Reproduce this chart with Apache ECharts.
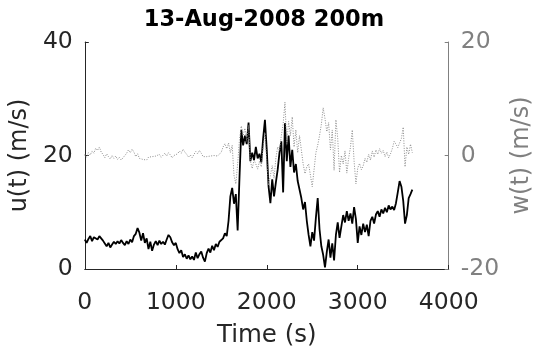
<!DOCTYPE html>
<html>
<head>
<meta charset="utf-8">
<script src="https://cdn.jsdelivr.net/npm/echarts@6/dist/echarts.min.js"></script>
<style>
  html, body { margin: 0; padding: 0; background: #ffffff; }
  #chart { width: 542px; height: 353px; }
</style>
</head>
<body>
<div id="chart"></div>
<script>
// Sampling interval of both records (seconds)
const sampleStep = 20;

// Horizontal wind speed u(t) in m/s, one value per sample from t = 0 s
const uValues = [
  5.2, 4.6, 5.3, 5.8, 4.9, 5.6, 5.9, 5.2, 5.8, 5.4,
  5.0, 4.5, 4.0, 4.6, 3.8, 4.3, 4.8, 4.4, 4.9, 4.5,
  5.1, 4.6, 4.2, 4.9, 4.4, 5.2, 4.7, 5.8, 6.2, 7.2,
  6.4, 5.0, 6.3, 4.6, 5.4, 3.5, 4.8, 3.2, 4.3, 4.9,
  4.2, 5.0, 4.4, 4.8, 4.3, 5.2, 6.0, 5.6, 4.7, 4.2,
  4.6, 3.5, 2.8, 3.3, 2.1, 2.6, 1.8, 2.4, 1.7, 2.2,
  1.6, 2.9, 1.9, 2.6, 3.1, 2.0, 1.3, 2.8, 3.6, 2.9,
  4.1, 3.3, 4.4, 3.9, 4.8, 4.5, 5.4, 6.3, 5.8, 8.5,
  12.8, 14.3, 11.5, 13.2, 6.8, 16.0, 24.5, 21.8, 23.5, 22.0,
  25.8, 19.0, 20.5, 19.2, 21.5, 19.5, 20.3, 18.8, 23.0, 26.3,
  21.0, 14.5, 11.6, 15.8, 12.8, 15.2, 17.5, 20.5, 22.5, 13.5,
  25.7, 19.0, 23.5, 18.0, 21.0, 17.0, 18.5, 15.5, 14.0, 12.5,
  10.5, 11.8, 8.5, 6.0, 4.0, 6.5, 5.0, 9.0, 12.5, 7.0,
  4.0, 2.5, 0.3, 3.0, 5.2, 2.0, 4.5, 1.5, 6.0, 8.2,
  5.5, 7.5, 9.5, 8.2, 10.2, 8.5, 9.8, 8.0, 10.9, 8.8,
  4.6, 7.5, 6.0, 8.0, 6.5, 7.8, 5.8, 8.5, 9.2, 8.0,
  9.6, 10.2, 9.2, 10.5, 9.8, 10.8, 10.0, 11.2, 10.5, 11.0,
  10.4, 11.6, 13.5, 15.5, 14.5, 12.0, 8.0, 9.5, 12.5, 13.2,
  14.0
];

// Vertical wind speed w(t) in m/s, same sampling
const wValues = [
  0.2, -0.3, 0.5, 0.1, 0.8, 0.4, 1.3, 0.9, 1.5, 0.6,
  0.2, -0.4, 0.3, -0.2, -0.6, 0.0, -0.5, -0.1, -0.7, -0.3,
  -0.8, -0.4, -0.2, 0.4, 1.0, 0.5, 1.1, 0.6, -0.2, 0.3,
  -0.5, -0.2, -0.7, -0.4, -0.8, -0.3, -0.6, -0.2, -0.5, -0.1,
  -0.4, 0.2, -0.3, 0.0, 0.4, -0.1, 0.5, 0.1, -0.4, 0.0,
  -0.3, 0.3, 0.8, 0.4, 1.1, 0.6, 0.2, -0.3, 0.1, -0.4,
  0.2, 0.7, 0.3, 0.9, 0.4, -0.2, -0.5, -0.2, -0.4, -0.1,
  -0.3, 0.0, -0.3, -0.1, 0.2, 0.6, 1.5, 2.1, 1.2, 2.2,
  0.5, 1.8, -3.5, -5.0, -1.5, 2.8, 5.2, 3.5, 4.8, 2.5,
  5.3, -1.0, -2.3, -0.8, -1.5, -2.4, -1.0, -2.0, 1.5, 4.0,
  -1.0, -5.2, -3.5, -1.8, -4.0, -0.5, 1.5, 0.8, 3.5, 5.5,
  9.4, 2.0, 6.0, 3.5, 6.8, 1.5, 4.5, 0.5, 3.5, 1.0,
  -1.5, -3.2, -2.0, -1.5, -3.5, -5.5, -2.5, 0.5, 1.8, 3.5,
  5.5, 8.4, 6.5, 4.2, 5.8, 1.0, 4.5, -2.6, 6.3, 3.0,
  -3.0, 0.0, -1.5, 0.8, -3.1, -0.5, 1.5, 4.5, -1.0, -5.0,
  -2.2, -1.4, -2.5, -1.8, -0.5, -1.2, 0.2, -0.8, 0.8, -0.3,
  1.0, 0.2, 1.2, 0.4, 0.9, -0.2, 0.6, -0.4, 0.3, 1.2,
  2.5, 2.0, 1.4, 2.2, 3.0, 5.0, -2.0, 1.5, 0.2, 2.0,
  0.5
];

// Axis ranges and ticks
const timeTicks = { min: 0, max: 4000, step: 1000 };
const uTicks = { min: 0, max: 40, step: 20 };
const wTicks = { min: -20, max: 20, step: 20 };

const titleText = '13-Aug-2008 200m';
const xName = 'Time (s)';
const uName = 'u(t) (m/s)';
const wName = 'w(t) (m/s)';

const FONT = 'DejaVu Sans';
const DARK = '#262626';
const GREY = '#808080';

const toPairs = vals => vals.map((v, i) => [i * sampleStep, v]);
const plainNumber = v => String(v);

const chart = echarts.init(document.getElementById('chart'), null, { renderer: 'canvas' });

chart.setOption({
  animation: false,
  backgroundColor: '#ffffff',
  title: {
    text: titleText,
    left: 259,
    textAlign: 'center',
    top: 4,
    textStyle: { fontFamily: FONT, fontSize: 22.5, fontWeight: 'bold', color: '#000000' }
  },
  grid: { left: 84, right: 91, top: 42, bottom: 84, containLabel: false },
  xAxis: {
    type: 'value',
    min: timeTicks.min, max: timeTicks.max, interval: timeTicks.step,
    name: xName, nameLocation: 'middle', nameGap: 54,
    nameTextStyle: { fontFamily: FONT, fontSize: 24.5, color: DARK },
    axisLine: { show: true, lineStyle: { color: DARK, width: 1 } },
    axisTick: { show: true, inside: true, length: 4, lineStyle: { color: DARK } },
    axisLabel: { fontFamily: FONT, fontSize: 23.5, color: DARK, margin: 22, formatter: plainNumber },
    splitLine: { show: false }
  },
  yAxis: [
    {
      type: 'value', position: 'left',
      min: uTicks.min, max: uTicks.max, interval: uTicks.step,
      name: uName, nameLocation: 'middle', nameGap: 41, nameRotate: 90,
      nameTextStyle: { fontFamily: FONT, fontSize: 24, color: DARK },
      axisLine: { show: true, lineStyle: { color: DARK, width: 1 } },
      axisTick: { show: true, inside: true, length: 4, lineStyle: { color: DARK } },
      axisLabel: { fontFamily: FONT, fontSize: 23.5, color: DARK, margin: 12, formatter: plainNumber },
      splitLine: { show: false }
    },
    {
      type: 'value', position: 'right',
      min: wTicks.min, max: wTicks.max, interval: wTicks.step,
      name: wName, nameLocation: 'middle', nameGap: 52, nameRotate: 90,
      nameTextStyle: { fontFamily: FONT, fontSize: 24, color: GREY },
      axisLine: { show: true, lineStyle: { color: GREY, width: 1 } },
      axisTick: { show: true, inside: true, length: 4, lineStyle: { color: GREY } },
      axisLabel: { fontFamily: FONT, fontSize: 23.5, color: GREY, margin: 12, formatter: plainNumber },
      splitLine: { show: false }
    }
  ],
  series: [
    {
      name: 'u(t)', type: 'line', yAxisIndex: 0,
      data: toPairs(uValues),
      showSymbol: false, symbol: 'none',
      lineStyle: { color: '#000000', width: 1.8 },
      z: 2
    },
    {
      name: 'w(t)', type: 'line', yAxisIndex: 1,
      data: toPairs(wValues),
      showSymbol: false, symbol: 'none',
      lineStyle: { color: '#8c8c8c', width: 1, type: [1, 1.5] },
      z: 3
    }
  ]
});
</script>
</body>
</html>
